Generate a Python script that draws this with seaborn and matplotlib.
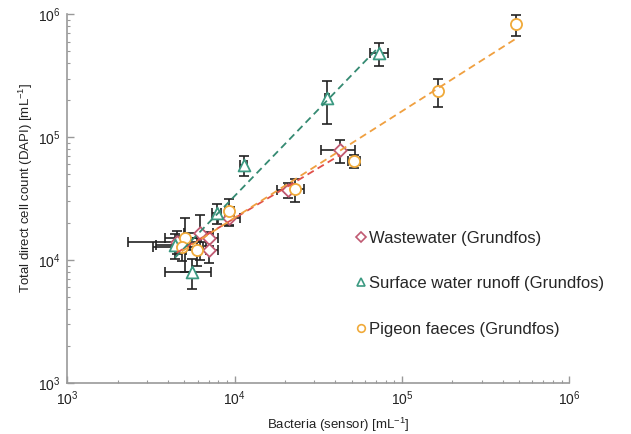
import numpy as np
import pandas as pd
import matplotlib
matplotlib.use('Agg')
import matplotlib.pyplot as plt
import seaborn as sns

# values (cells per mL)
ww_x = [4.5e3, 6.2e3, 7.0e3, 7.0e3, 9.3e3, 2.08e4, 4.27e4]
ww_y = [1.41e4, 1.65e4, 1.50e4, 1.20e4, 2.18e4, 3.70e4, 7.85e4]
ww_xerr = [2.2e3, 1.2e3, 1.0e3, 1.0e3, 1.4e3, 3.0e3, 1.0e4]
ww_yerr = [3.0e3, 6.5e3, 2.0e3, 2.5e3, 3.0e3, 5.0e3, 1.7e4]

sw_x = [4.4e3, 5.55e3, 7.8e3, 1.13e4, 3.56e4, 7.3e4]
sw_y = [1.32e4, 8.0e3, 2.42e4, 5.9e4, 2.07e5, 4.8e5]
sw_xerr = [1.0e3, 1.7e3, 5.0e2, 5.0e2, 1.0e3, 9.0e3]
sw_yerr = [3.0e3, 2.2e3, 4.5e3, 1.1e4, 8.0e4, 1.0e5]

pf_x = [5.06e3, 4.83e3, 5.93e3, 9.3e3, 2.3e4, 5.18e4, 1.65e5, 4.79e5]
pf_y = [1.50e4, 1.28e4, 1.20e4, 2.52e4, 3.78e4, 6.38e4, 2.37e5, 8.3e5]
pf_xerr = [1.2e3, 1.6e3, 8.0e2, 6.0e2, 3.0e3, 4.0e3, 5.0e3, 8.0e3]
pf_yerr = [7.0e3, 3.0e3, 3.0e3, 6.0e3, 8.0e3, 7.5e3, 6.0e4, 1.6e5]

labels = ['Wastewater (Grundfos)', 'Surface water runoff (Grundfos)', 'Pigeon faeces (Grundfos)']

sns.set_style('ticks')
plt.rcParams['font.family'] = ['Liberation Sans', 'DejaVu Sans']
plt.rcParams['mathtext.fontset'] = 'custom'
plt.rcParams['mathtext.rm'] = 'Liberation Sans'

fig = plt.figure(figsize=(6.31, 4.34), dpi=100)
ax = fig.add_axes([0.1067, 0.1182, 0.7955, 0.8488])

series = [
    (ww_x, ww_y, ww_xerr, ww_yerr, 'D', '#c05a72', '#e0504a', 6.5),
    (sw_x, sw_y, sw_xerr, sw_yerr, '^', '#3c9a82', '#358a72', 8.5),
    (pf_x, pf_y, pf_xerr, pf_yerr, 'o', '#f0aa3a', '#f0a040', 8),
]

handles = []
for (x, y, xe, ye, m, ec, lc, ms), lab in zip(series, labels):
    ax.errorbar(x, y, xerr=xe, yerr=ye, fmt='none', ecolor='#222222',
                elinewidth=1.2, capsize=3.5, capthick=1.2, zorder=2)
    df = pd.DataFrame({'x': x, 'y': y})
    sns.scatterplot(data=df, x='x', y='y', marker=m, s=ms ** 2, facecolor='white',
                    edgecolor=ec, linewidth=1.3, zorder=3, ax=ax)
    # fit in log-log space
    k, b = np.polyfit(np.log10(x), np.log10(y), 1)
    xs = np.array([min(x), max(x)])
    fit = pd.DataFrame({'x': xs, 'y': 10 ** (b + k * np.log10(xs))})
    sns.lineplot(data=fit, x='x', y='y', color=lc, linestyle=(0, (4, 2.5)),
                 linewidth=1.3, zorder=4, ax=ax)
    handles.append(plt.Line2D([], [], marker=m, linestyle='none', markersize=5.5,
                              markerfacecolor='white', markeredgecolor=ec,
                              markeredgewidth=1.2, label=lab))

ax.set_xscale('log')
ax.set_yscale('log')
ax.set_xlim(1e3, 1e6)
ax.set_ylim(1e3, 1e6)

ax.set_xlabel('Bacteria (sensor) [mL$^{-1}$]', fontsize=9.5, color='#222222')
ax.set_ylabel('Total direct cell count (DAPI) [mL$^{-1}$]', fontsize=9.5, color='#222222')
ax.xaxis.set_label_coords(0.54, -0.09)
ax.yaxis.set_label_coords(-0.064, 0.53)

for side in ['top', 'right']:
    ax.spines[side].set_visible(False)
for side in ['left', 'bottom']:
    ax.spines[side].set_color('#999999')
    ax.spines[side].set_linewidth(1.2)
ax.tick_params(which='major', direction='in', length=5, width=1, color='#999999',
               labelsize=10, labelcolor='#222222', pad=5)
ax.tick_params(which='minor', direction='in', length=2.5, width=0.8, color='#999999')

ax.legend(handles=handles, loc='upper left', bbox_to_anchor=(0.555, 0.43),
          frameon=False, fontsize=12, handletextpad=0.0, handlelength=1.0,
          labelspacing=1.82, borderaxespad=0)

fig.savefig('out.png', dpi=100)
